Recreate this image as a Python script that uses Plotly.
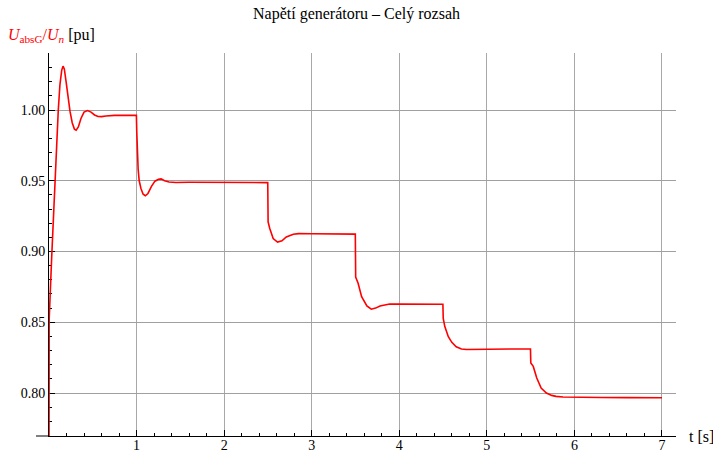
import plotly.graph_objects as go

# Data
t = [0.0, 0.002, 0.03, 0.06, 0.085, 0.106, 0.125, 0.145, 0.16, 0.175, 0.195, 0.215, 0.24,
     0.265, 0.29, 0.31, 0.335, 0.365, 0.40, 0.44, 0.48, 0.52, 0.56, 0.60, 0.65, 0.75, 0.85,
     0.95, 0.998,
     1.002, 1.008, 1.018, 1.03, 1.05, 1.075, 1.10, 1.13, 1.17, 1.21, 1.25, 1.28, 1.32, 1.37,
     1.45, 1.6, 1.8, 2.0, 2.2, 2.4, 2.498,
     2.502, 2.52, 2.56, 2.61, 2.66, 2.71, 2.79, 2.85, 3.0, 3.2, 3.4, 3.498,
     3.502, 3.53, 3.57, 3.63, 3.68, 3.73, 3.78, 3.89, 4.0, 4.2, 4.4, 4.498,
     4.502, 4.52, 4.56, 4.60, 4.65, 4.71, 4.77, 4.9, 5.1, 5.3, 5.498,
     5.502, 5.53, 5.57, 5.62, 5.68, 5.74, 5.79, 5.87, 6.0, 6.3, 6.6, 7.0]
u = [0.75, 0.852, 0.895, 0.94, 0.975, 1.0, 1.018, 1.028, 1.031, 1.029, 1.02, 1.009, 0.999,
     0.991, 0.9865, 0.9858, 0.988, 0.994, 0.9985, 0.9996, 0.9985, 0.9965, 0.9954, 0.9953,
     0.9958, 0.9962, 0.9961, 0.9963, 0.9962,
     0.985, 0.970, 0.958, 0.950, 0.9445, 0.9405, 0.9394, 0.941, 0.946, 0.9497, 0.951, 0.9513,
     0.950, 0.9491, 0.9488, 0.9489, 0.9488, 0.9488, 0.9487, 0.9487, 0.9487,
     0.921, 0.9164, 0.9091, 0.9067, 0.9075, 0.9103, 0.9122, 0.9126, 0.9125, 0.9124, 0.9123, 0.9123,
     0.882, 0.8776, 0.8681, 0.8615, 0.8592, 0.8600, 0.8615, 0.8629, 0.8628, 0.8628, 0.8627, 0.8627,
     0.8528, 0.8469, 0.8398, 0.8358, 0.8327, 0.8311, 0.8307, 0.8309, 0.8310, 0.8311, 0.8311,
     0.8212, 0.8188, 0.8106, 0.8035, 0.8000, 0.7983, 0.7976, 0.7972, 0.7970, 0.7968, 0.7967, 0.7966]

x_ticks = [1, 2, 3, 4, 5, 6, 7]
y_ticks = [0.80, 0.85, 0.90, 0.95, 1.00]

FONT = "Liberation Serif, Times New Roman, serif"

fig = go.Figure()
fig.add_trace(go.Scatter(x=t, y=u, mode="lines",
                         line=dict(color="#ff0000", width=1.6),
                         showlegend=False, hoverinfo="skip"))

fig.update_layout(
    width=713, height=454,
    margin=dict(l=49, r=37, t=53, b=18, autoexpand=False),
    paper_bgcolor="white", plot_bgcolor="white",
    font=dict(family=FONT, size=14, color="black"),
    title=dict(text="Napětí generátoru – Celý rozsah", x=0.5, xref="container",
               xanchor="center", y=1 - 13 / 454, yanchor="middle",
               font=dict(family=FONT, size=16, color="black")),
    xaxis=dict(range=[0, 7.16], tickmode="array", tickvals=x_ticks,
               ticktext=[str(v) for v in x_ticks], automargin=False,
               showgrid=True, gridcolor="#a8a8a8", gridwidth=1,
               zeroline=False, showline=True, linecolor="black", linewidth=1,
               ticks="inside", ticklen=6, tickcolor="black", ticklabelstandoff=-4,
               minor=dict(tickmode="linear", tick0=0, dtick=0.2, ticks="inside",
                          ticklen=3, tickcolor="black", showgrid=False),
               layer="below traces", tickfont=dict(family=FONT, size=14)),
    yaxis=dict(range=[0.76961, 1.04028], tickmode="array", tickvals=y_ticks,
               ticktext=["%.2f" % v for v in y_ticks], automargin=False,
               showgrid=True, gridcolor="#a0a0a0", gridwidth=1,
               zeroline=False, showline=True, linecolor="black", linewidth=1,
               ticks="inside", ticklen=6, tickcolor="black",
               minor=dict(tickmode="linear", tick0=0, dtick=0.01, ticks="inside",
                          ticklen=3, tickcolor="black", showgrid=False),
               layer="below traces", tickfont=dict(family=FONT, size=14)),
)

# extension of horizontal axis line to the left of the vertical axis
fig.add_shape(type="line", xref="paper", yref="paper", x0=-13 / 627, x1=0, y0=0, y1=0,
              line=dict(color="black", width=1))

fig.add_annotation(
    text="<i>U</i><sub>absG</sub>/<i>U</i><sub><i>n</i></sub> <span style='color:black'>[pu]</span>",
    xref="paper", yref="paper", x=-43 / 627, y=1 + 18 / 383,
    xanchor="left", yanchor="middle", showarrow=False,
    font=dict(family=FONT, size=16, color="#ff0000"))

fig.add_annotation(text="t [s]", xref="paper", yref="paper", x=1 + 11 / 627, y=0,
                   xanchor="left", yanchor="middle", showarrow=False,
                   font=dict(family=FONT, size=16, color="black"))

fig.write_html("out.html")
